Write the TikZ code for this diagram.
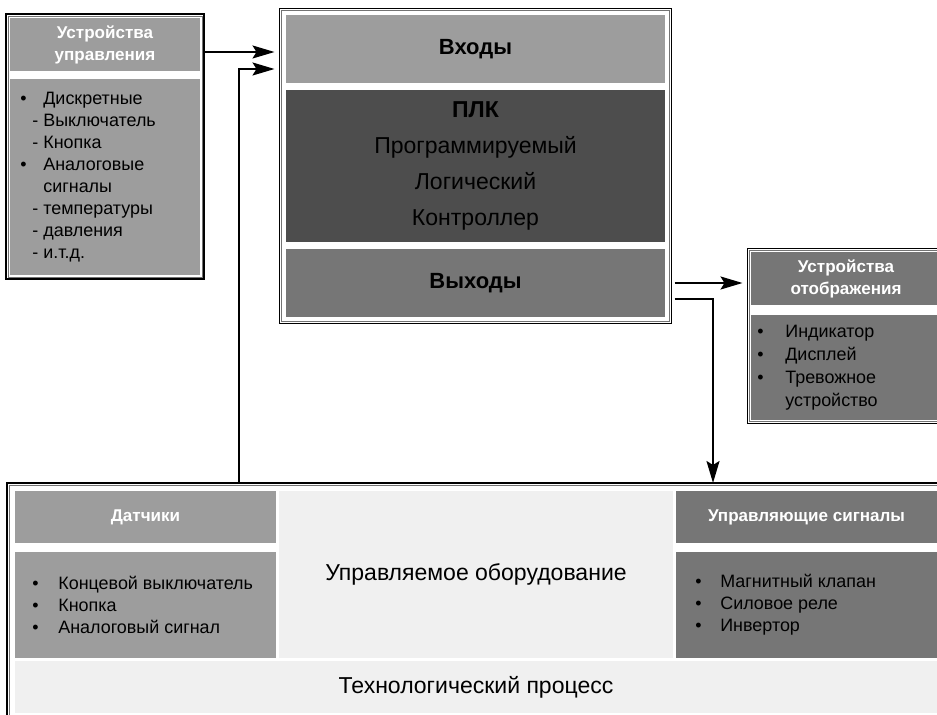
\documentclass[tikz,border=0pt]{standalone}
\usepackage{fontspec}
\setmainfont{Liberation Sans}
\usetikzlibrary{arrows.meta, positioning, fit, backgrounds, calc}

\definecolor{panelLight}{HTML}{9D9D9D}
\definecolor{panelMid}{HTML}{767676}
\definecolor{panelDark}{HTML}{4D4D4D}
\definecolor{panelPale}{HTML}{F0F0F0}

\begin{document}
\begin{tikzpicture}[
  panel/.style={rectangle, inner sep=0pt, outer sep=0pt, minimum width=3.8cm},
  hdr/.style={panel, minimum height=1.06cm, text=white, align=center, font=\fontsize{9.7}{12.5}\selectfont\bfseries},
  plcpanel/.style={panel, minimum width=7.58cm, align=center},
  bigtext/.style={font=\fontsize{13.1}{20.5}\selectfont},
  boldtext/.style={font=\fontsize{12.5}{15}\selectfont\bfseries},
  itemlist/.style={inner sep=0pt, anchor=west, align=left, font=\fontsize{10.2}{12.5}\selectfont},
  frame/.style={draw=black, line width=0.9pt, fill=white, outer sep=0pt},
  frameline/.style={draw=black!55, line width=0.4pt, outer sep=0pt},
  arrow/.style={-{Stealth[length=0.44cm, width=0.26cm, inset=0.08cm]}, line width=1.1pt, shorten >=0.1cm}
]
\useasboundingbox (0,0) rectangle (18.74,-14.3);

% Control devices
\node[hdr, fill=panelLight, anchor=north west] (ctrlhdr) at (0.2,-0.36) {Устройства\\управления};
\node[panel, fill=panelLight, minimum height=3.92cm, below=0.16cm of ctrlhdr] (ctrlbody) {};
\node[itemlist, xshift=0.2cm] (ctrllist) at (ctrlbody.west) {%
  \makebox[0.46cm][l]{\textbullet}Дискретные\\
  \hspace{0.24cm}\makebox[0.22cm][l]{-}Выключатель\\
  \hspace{0.24cm}\makebox[0.22cm][l]{-}Кнопка\\
  \makebox[0.46cm][l]{\textbullet}Аналоговые\\
  \hspace{0.46cm}сигналы\\
  \hspace{0.24cm}\makebox[0.22cm][l]{-}температуры\\
  \hspace{0.24cm}\makebox[0.22cm][l]{-}давления\\
  \hspace{0.24cm}\makebox[0.22cm][l]{-}и.т.д.};

% PLC
\node[plcpanel, fill=panelLight, minimum height=1.36cm, anchor=north west, boldtext] (inputs) at (5.72,-0.30) {Входы};
\node[plcpanel, fill=panelDark, minimum height=3.04cm, below=0.14cm of inputs, bigtext] (plc) {\textbf{ПЛК}\\Программируемый\\Логический\\Контроллер};
\node[plcpanel, fill=panelMid, minimum height=1.36cm, below=0.14cm of plc, boldtext] (outputs) {Выходы};

% Display devices
\node[hdr, fill=panelMid, anchor=north west] (disphdr) at (15.02,-5.04) {Устройства\\отображения};
\node[panel, fill=panelMid, minimum height=2.1cm, below=0.2cm of disphdr] (dispbody) {};
\node[itemlist, xshift=0.12cm, font=\fontsize{10.2}{13.1}\selectfont] (displist) at (dispbody.west) {%
  \makebox[0.56cm][l]{\textbullet}Индикатор\\
  \makebox[0.56cm][l]{\textbullet}Дисплей\\
  \makebox[0.56cm][l]{\textbullet}Тревожное\\
  \hspace{0.56cm}устройство};

% Process
\node[hdr, fill=panelLight, minimum width=5.22cm, minimum height=1.04cm, anchor=north west] (senshdr) at (0.3,-9.82) {Датчики};
\node[panel, fill=panelLight, minimum width=5.22cm, minimum height=2.12cm, below=0.18cm of senshdr] (sensbody) {};
\node[itemlist, xshift=0.34cm] (senslist) at (sensbody.west) {%
  \makebox[0.52cm][l]{\textbullet}Концевой выключатель\\
  \makebox[0.52cm][l]{\textbullet}Кнопка\\
  \makebox[0.52cm][l]{\textbullet}Аналоговый сигнал};
\node[panel, fill=panelPale, minimum width=7.88cm, minimum height=3.34cm, right=0.06cm of senshdr.north east, anchor=north west, bigtext] (equip) {Управляемое оборудование};
\node[hdr, fill=panelMid, minimum width=5.22cm, minimum height=1.04cm, right=0.06cm of equip.north east, anchor=north west] (acthdr) {Управляющие сигналы};
\node[panel, fill=panelMid, minimum width=5.22cm, minimum height=2.12cm, below=0.18cm of acthdr] (actbody) {};
\node[itemlist, xshift=0.38cm] (actlist) at (actbody.west) {%
  \makebox[0.5cm][l]{\textbullet}Магнитный клапан\\
  \makebox[0.5cm][l]{\textbullet}Силовое реле\\
  \makebox[0.5cm][l]{\textbullet}Инвертор};
\node[panel, fill=panelPale, minimum width=18.44cm, minimum height=1.04cm, below=0.06cm of sensbody.south west, anchor=north west, bigtext] (tech) {Технологический процесс};

% Frames
\begin{scope}[on background layer]
  \node[frame, fit=(ctrlhdr)(ctrlbody), inner sep=0.08cm] (ctrlframe) {};
  \node[frameline, fit=(ctrlhdr)(ctrlbody), inner sep=0.04cm] {};
  \node[frame, fit=(inputs)(outputs), inner sep=0.13cm] (plcframe) {};
  \node[frameline, fit=(inputs)(outputs), inner sep=0.09cm] {};
  \node[frame, fit=(disphdr)(dispbody), inner sep=0.07cm] (dispframe) {};
  \node[frameline, fit=(disphdr)(dispbody), inner sep=0.03cm] {};
  \node[frame, fit=(senshdr)(acthdr)(tech), inner sep=0.16cm] (procframe) {};
  \node[frameline, fit=(senshdr)(acthdr)(tech), inner sep=0.11cm] {};
\end{scope}

% Arrows
\coordinate (ctrlin) at (0,-1.04);
\coordinate (fbin) at (0,-1.38);
\coordinate (fbup) at (4.78,0);
\coordinate (dispout) at (0,-5.66);
\coordinate (actout) at (0,-5.98);
\coordinate (actdrop) at (14.26,0);

\draw[arrow] (ctrlframe.east |- ctrlin) -- (plcframe.west |- ctrlin);
\draw[arrow] (fbup |- procframe.north) |- (plcframe.west |- fbin);
\draw[arrow, shorten <=0.06cm] (plcframe.east |- dispout) -- (dispframe.west |- dispout);
\draw[arrow, shorten <=0.06cm, shorten >=0pt] (plcframe.east |- actout) -| (actdrop |- procframe.north);
\end{tikzpicture}
\end{document}
